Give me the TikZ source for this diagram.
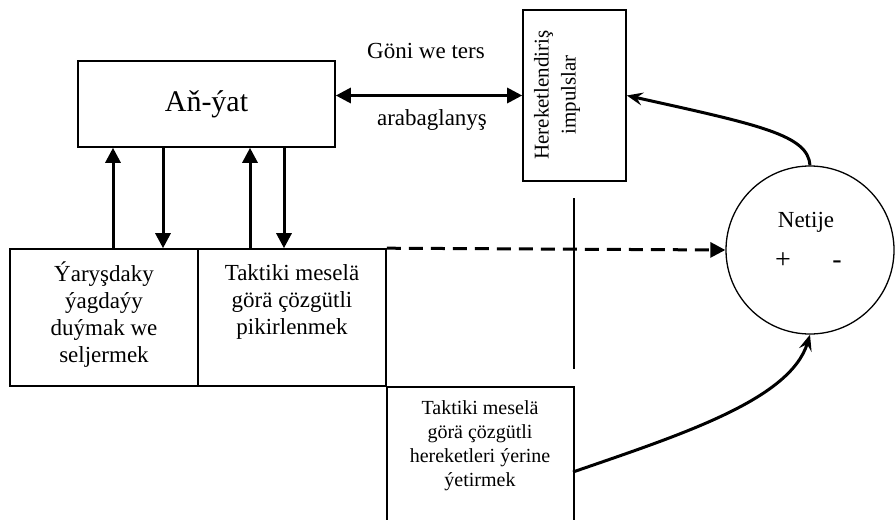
\documentclass[tikz,border=0pt]{standalone}
\usepackage{fontspec}
\setmainfont{Liberation Serif}
\usetikzlibrary{arrows.meta,calc}
\begin{document}
\begin{tikzpicture}[x=1pt,y=-1pt,
  box/.style={draw,line width=1.6pt,inner sep=0pt},
  txt/.style={align=center,font=\fontsize{23}{27}\selectfont,inner sep=0pt},
  sign/.style={anchor=base,inner sep=0pt,font=\fontsize{28}{30}\selectfont},
  arr/.style={line width=3pt,-{Triangle[length=15pt,width=15pt]}},
  darr/.style={line width=3pt,{Triangle[length=15pt,width=15pt]}-{Triangle[length=15pt,width=15pt]}},
  carr/.style={line width=3pt,-{Stealth[length=16pt,width=13pt,inset=6pt]}}]
\useasboundingbox (0,0) rectangle (896,519);
\clip (0,0) rectangle (896,519);
% boxes
\node[box,minimum width=257pt,minimum height=86pt,font=\fontsize{30}{34}\selectfont] (anyat) at (206.5,104) {Aň-ýat};
\node[box,minimum width=103pt,minimum height=171pt] (her) at (574.5,95.5) {};
\node[txt,rotate=90,font=\fontsize{21}{27}\selectfont] (hert) at (557,95) {Hereketlendiriş\\impulslar};
\node[box,minimum width=188pt,minimum height=137pt] (box1) at (104,317.5) {};
\node[txt] (t1) at (104,315) {Ýaryşdaky\\ýagdaýy\\duýmak we\\seljermek};
\node[box,minimum width=188pt,minimum height=137pt] (box2) at (292,317.5) {};
\node[txt] (t2) at (292,302) {Taktiki meselä\\görä çözgütli\\pikirlenmek};
\node[box,minimum width=187pt,minimum height=180pt,anchor=north west] (box3) at (386,386) {};
\node[txt,font=\fontsize{20}{24}\selectfont] (t3) at (480,446) {Taktiki meselä\\görä çözgütli\\hereketleri ýerine\\ýetirmek};
% result circle
\node[circle,draw,line width=1.3pt,minimum size=168pt,inner sep=0pt] (res) at (810,250) {};
\node[txt] (net) at (806,222) {Netije};
\node[sign] (plus) at (783,268) {+};
\node[sign] (minus) at (837,268) {-};
% separator
\coordinate (s1) at (574,198);
\coordinate (s2) at (574,369);
\draw[line width=1.6pt] (s1) -- (s2);
% labels
\node[txt] (goni) at (426,51) {Göni we ters};
\node[txt] (arab) at (432,120) {arabaglanyş};
% arrows
\draw[arr] ([xshift=9pt]box1.north) -- ([xshift=9pt]box1.north |- anyat.south);
\draw[arr] ([xshift=59pt]box1.north |- anyat.south) -- ([xshift=59pt]box1.north);
\draw[arr] ([xshift=-42pt]box2.north) -- ([xshift=-42pt]box2.north |- anyat.south);
\draw[arr] ([xshift=-8pt]box2.north |- anyat.south) -- ([xshift=-8pt]box2.north);
\draw[darr] (anyat.east |- her.west) -- (her.west);
\draw[arr,dash pattern=on 14pt off 8pt] (box2.north east) -- (res.west);
\draw[carr] (res.north) .. controls (808,135) and (760,125) .. (her.east);
\coordinate (b3out) at (573,472);
\draw[carr] (b3out) .. controls (680,435) and (790,400) .. (res.south);
\end{tikzpicture}
\end{document}
